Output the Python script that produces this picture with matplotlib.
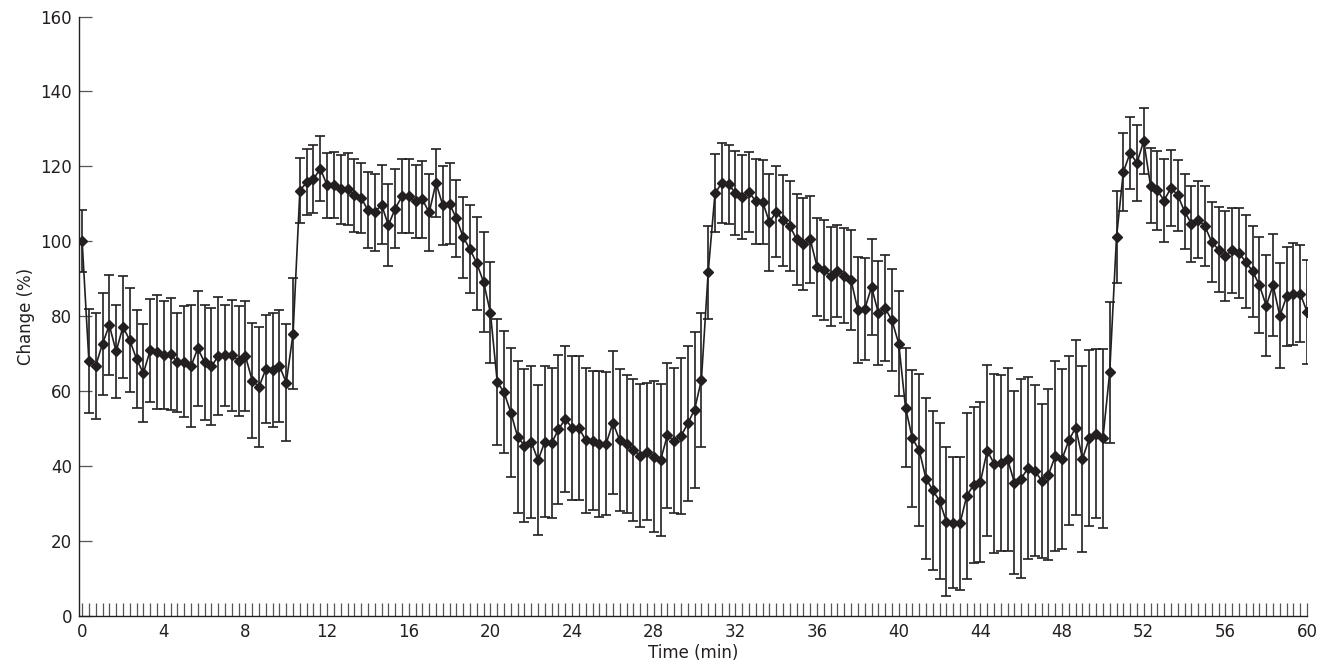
import numpy as np
import matplotlib
matplotlib.use('Agg')
from matplotlib import pyplot as plt
from matplotlib.ticker import MultipleLocator

# readings every 20 s, 0-60 min
time_min = np.arange(181) / 3.0

change_mean = [
    100.1, 68.0, 66.8, 72.7, 77.6, 70.6, 77.2, 73.6, 68.6, 64.8,
    70.9, 70.4, 69.7, 70.0, 67.7, 67.9, 66.7, 71.4, 67.7, 66.6,
    69.4, 69.6, 69.6, 68.1, 69.4, 62.8, 61.2, 65.9, 65.6, 66.7,
    62.3, 75.4, 113.5, 115.8, 116.6, 119.4, 115.0, 115.0, 113.9, 113.9,
    112.3, 111.6, 108.3, 107.7, 109.8, 104.3, 108.7, 112.0, 112.0, 110.7,
    111.2, 107.7, 115.6, 109.6, 110.0, 106.1, 101.1, 97.9, 94.1, 89.1,
    80.9, 62.5, 59.7, 54.3, 47.8, 45.5, 46.4, 41.6, 46.5, 46.2,
    49.8, 52.6, 50.2, 50.2, 46.9, 46.8, 45.8, 46.0, 51.6, 46.9,
    45.9, 44.3, 42.8, 43.8, 42.5, 41.6, 48.2, 46.8, 48.0, 51.4,
    55.1, 63.0, 91.8, 112.8, 115.6, 115.2, 112.9, 111.9, 113.1, 110.7,
    110.5, 105.1, 107.9, 105.6, 104.1, 100.5, 99.2, 100.5, 93.2, 92.3,
    90.7, 92.1, 90.8, 89.6, 81.6, 81.9, 87.8, 80.9, 82.2, 78.9,
    72.7, 55.6, 47.4, 44.3, 36.7, 33.6, 30.7, 25.2, 24.9, 24.7,
    32.1, 35.0, 35.8, 44.1, 40.7, 40.9, 41.8, 35.6, 36.7, 39.5,
    38.8, 36.1, 37.7, 42.7, 41.9, 46.9, 50.3, 42.0, 47.4, 48.7,
    47.4, 65.0, 101.1, 118.5, 123.6, 120.9, 126.8, 114.9, 113.6, 110.9,
    114.3, 112.3, 108.0, 104.7, 105.8, 104.0, 99.8, 97.8, 96.1, 97.6,
    96.9, 94.5, 92.0, 88.3, 82.8, 88.3, 80.1, 85.3, 85.9, 86.0,
    81.2,
]

change_sd = [
    8.3, 13.9, 14.1, 13.6, 13.4, 12.4, 13.6, 13.9, 13.2, 13.1,
    13.8, 15.2, 14.4, 14.9, 13.3, 14.8, 16.2, 15.4, 15.3, 15.5,
    15.8, 13.5, 14.8, 14.6, 14.8, 15.3, 16.0, 14.4, 15.2, 14.9,
    15.6, 14.9, 8.7, 8.9, 9.0, 8.7, 8.7, 8.8, 9.2, 9.6,
    9.7, 9.4, 10.1, 10.3, 10.5, 11.0, 10.6, 9.9, 9.9, 9.8,
    10.3, 10.4, 9.1, 10.6, 10.8, 10.3, 10.8, 11.7, 12.5, 13.4,
    13.5, 16.8, 16.3, 17.2, 20.3, 20.4, 20.3, 20.0, 20.2, 20.0,
    19.9, 19.6, 19.3, 19.2, 19.3, 18.5, 19.5, 19.0, 19.1, 19.0,
    18.3, 18.9, 19.1, 18.3, 20.1, 20.2, 19.4, 19.4, 20.8, 20.8,
    20.8, 17.8, 12.4, 10.4, 10.6, 10.5, 11.2, 11.2, 10.7, 11.4,
    11.1, 13.0, 12.1, 12.1, 11.9, 12.1, 12.3, 11.7, 13.1, 13.3,
    13.2, 12.3, 12.7, 13.3, 14.1, 13.6, 12.9, 13.8, 14.1, 13.6,
    14.0, 15.9, 18.3, 20.2, 21.4, 21.2, 20.8, 19.8, 17.5, 17.8,
    22.2, 20.8, 21.4, 22.8, 23.9, 23.5, 24.5, 24.4, 26.6, 24.4,
    22.8, 20.5, 22.8, 25.3, 23.9, 22.6, 23.4, 24.8, 23.5, 22.5,
    23.8, 18.9, 12.3, 10.4, 9.5, 10.1, 8.8, 10.0, 10.5, 11.2,
    10.1, 9.5, 10.0, 10.2, 10.2, 10.7, 10.7, 11.3, 12.0, 11.4,
    12.0, 12.4, 12.2, 12.8, 13.5, 13.6, 14.0, 13.3, 13.6, 12.9,
    13.9,
]

ink = '#231f20'

fig = plt.figure(figsize=(13.24, 6.72), dpi=100)
ax = fig.add_axes([0.0597, 0.0833, 0.9275, 0.8921])

ax.errorbar(time_min, change_mean, yerr=change_sd, color=ink, lw=1.2,
            elinewidth=1.2, capsize=3.5, capthick=1.2,
            marker='D', markersize=5.5, markerfacecolor=ink,
            markeredgecolor=ink)

ax.set_xlim(-0.15, 60)
ax.set_ylim(0, 160)
ax.xaxis.set_major_locator(MultipleLocator(4))
ax.xaxis.set_minor_locator(MultipleLocator(1 / 3))
ax.yaxis.set_major_locator(MultipleLocator(20))

for s in ['top', 'right']:
    ax.spines[s].set_visible(False)
for s in ['left', 'bottom']:
    ax.spines[s].set_color(ink)
    ax.spines[s].set_linewidth(1.0)

ax.tick_params(axis='x', which='both', direction='in', length=9.5,
               width=0.9, color='#555555', labelsize=12, pad=5, labelcolor=ink)
ax.tick_params(axis='y', direction='in', length=9.5, width=0.9,
               color='#555555', labelsize=12, pad=5, labelcolor=ink)

ax.set_xlabel('Time (min)', fontsize=12, color=ink, labelpad=2)
ax.set_ylabel('Change (%)', fontsize=12, color=ink, labelpad=4)

fig.savefig('out.png', dpi=100)
